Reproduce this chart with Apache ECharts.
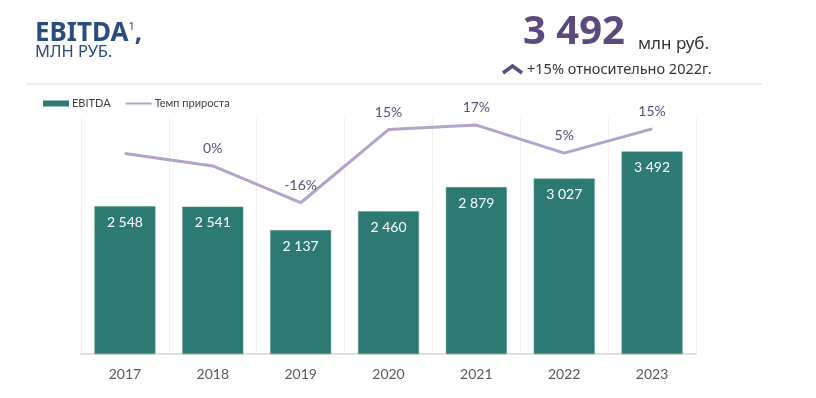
<!DOCTYPE html>
<html>
<head>
<meta charset="utf-8">
<script src="https://cdn.jsdelivr.net/npm/echarts@6/dist/echarts.min.js"></script>
<style>
  html, body { margin: 0; padding: 0; background: #fff; }
  #main { width: 816px; height: 398px; }
</style>
</head>
<body>
<div id="main"></div>
<script>
// данные
var years = ['2017', '2018', '2019', '2020', '2021', '2022', '2023'];
var ebitda = [2548, 2541, 2137, 2460, 2879, 3027, 3492];
var growth = [5.0, -0.3, -15.9, 15.1, 17.0, 5.1, 15.4]; // темп прироста, %
var growthShown = [false, true, true, true, true, true, true];

var myChart = echarts.init(document.getElementById('main'));
var font = 'Lato, "Open Sans", sans-serif';

var growthData = [];
for (var i = 0; i < growth.length; i++) {
    growthData.push({
        value: growth[i],
        label: { show: growthShown[i] }
    });
}

option = {
    backgroundColor: '#fff',
    animation: false,
    legend: {
        left: 38,
        top: 93,
        itemWidth: 26,
        itemHeight: 6,
        itemGap: 14,
        textStyle: { fontFamily: font, fontSize: 11, color: '#404040', padding: [0, 0, 0, -2] },
        data: [
            { name: 'EBITDA', icon: 'rect', itemStyle: { borderWidth: 0 } },
            { name: 'Темп прироста', itemStyle: { opacity: 0 } }
        ]
    },
    grid: { left: 81, right: 120, top: 118, bottom: 44 },
    xAxis: {
        type: 'category',
        data: years,
        axisLine: { lineStyle: { color: '#e0e0e0', width: 2 } },
        axisTick: { show: false },
        axisLabel: { fontFamily: font, fontSize: 14, color: '#595959', margin: 13 },
        splitLine: { show: true, lineStyle: { color: '#f0f0f0', width: 1 } }
    },
    yAxis: [
        { type: 'value', min: 0, max: 4070, show: false, splitLine: { show: false } },
        { type: 'value', min: -80, max: 20, show: false, splitLine: { show: false } }
    ],
    graphic: [
        {
            type: 'text', left: 35, top: 21,
            style: {
                text: '{a|EBITDA}{s|1}{a|,}',
                rich: {
                    a: { fontFamily: '"Noto Sans", sans-serif', fontWeight: 'bold', fontSize: 26, fill: '#2b4c7e' },
                    s: { fontFamily: '"Noto Sans", sans-serif', fontSize: 11, fill: '#2b4c7e', verticalAlign: 'top', padding: [0, 0, 8, 0] }
                }
            }
        },
        {
            type: 'text', left: 35, top: 44,
            style: { text: 'МЛН РУБ.', fontFamily: '"Noto Sans", sans-serif', fontSize: 16.5, fill: '#2b4c7e' }
        },
        {
            type: 'line', shape: { x1: 27, y1: 84, x2: 762, y2: 84 },
            style: { stroke: '#ececf0', lineWidth: 2 }
        },
        {
            type: 'text', left: 523, top: 13,
            style: { text: '3 492', fontFamily: '"Noto Sans", sans-serif', fontWeight: 'bold', fontSize: 40, fill: '#5c4a7d' }
        },
        {
            type: 'text', left: 638, top: 36,
            style: { text: 'млн руб.', fontFamily: '"Noto Sans", sans-serif', fontSize: 17, fill: '#333' }
        },
        {
            type: 'polyline', shape: { points: [[503, 73], [512.5, 66], [522, 73]] },
            style: { stroke: '#5c4a7d', lineWidth: 3.5, fill: null }
        },
        {
            type: 'text', left: 527, top: 62,
            style: { text: '+15% относительно 2022г.', fontFamily: '"Noto Sans", sans-serif', fontSize: 14.5, fill: '#333' }
        }
    ],
    series: [
        {
            name: 'EBITDA',
            type: 'bar',
            barWidth: 61,
            data: ebitda,
            itemStyle: { color: '#2c7a72', borderColor: '#5c9a93', borderWidth: 0.5 },
            label: {
                show: true,
                position: 'insideTop',
                distance: 9,
                fontFamily: font,
                fontSize: 14,
                color: '#fff',
                formatter: function (p) {
                    return String(p.value).replace(/\B(?=(\d{3})+(?!\d))/g, ' ');
                }
            }
        },
        {
            name: 'Темп прироста',
            type: 'line',
            yAxisIndex: 1,
            data: growthData,
            symbol: 'circle',
            symbolSize: 1,
            itemStyle: { color: '#b3a2cc' },
            lineStyle: { color: '#b3a2cc', width: 3 },
            label: {
                position: 'top',
                distance: 10,
                fontFamily: font,
                fontSize: 14,
                color: '#5b4e7c',
                formatter: function (p) {
                    return Math.round(p.value) + '%';
                }
            }
        }
    ]
};
myChart.setOption(option);
</script>
</body>
</html>
